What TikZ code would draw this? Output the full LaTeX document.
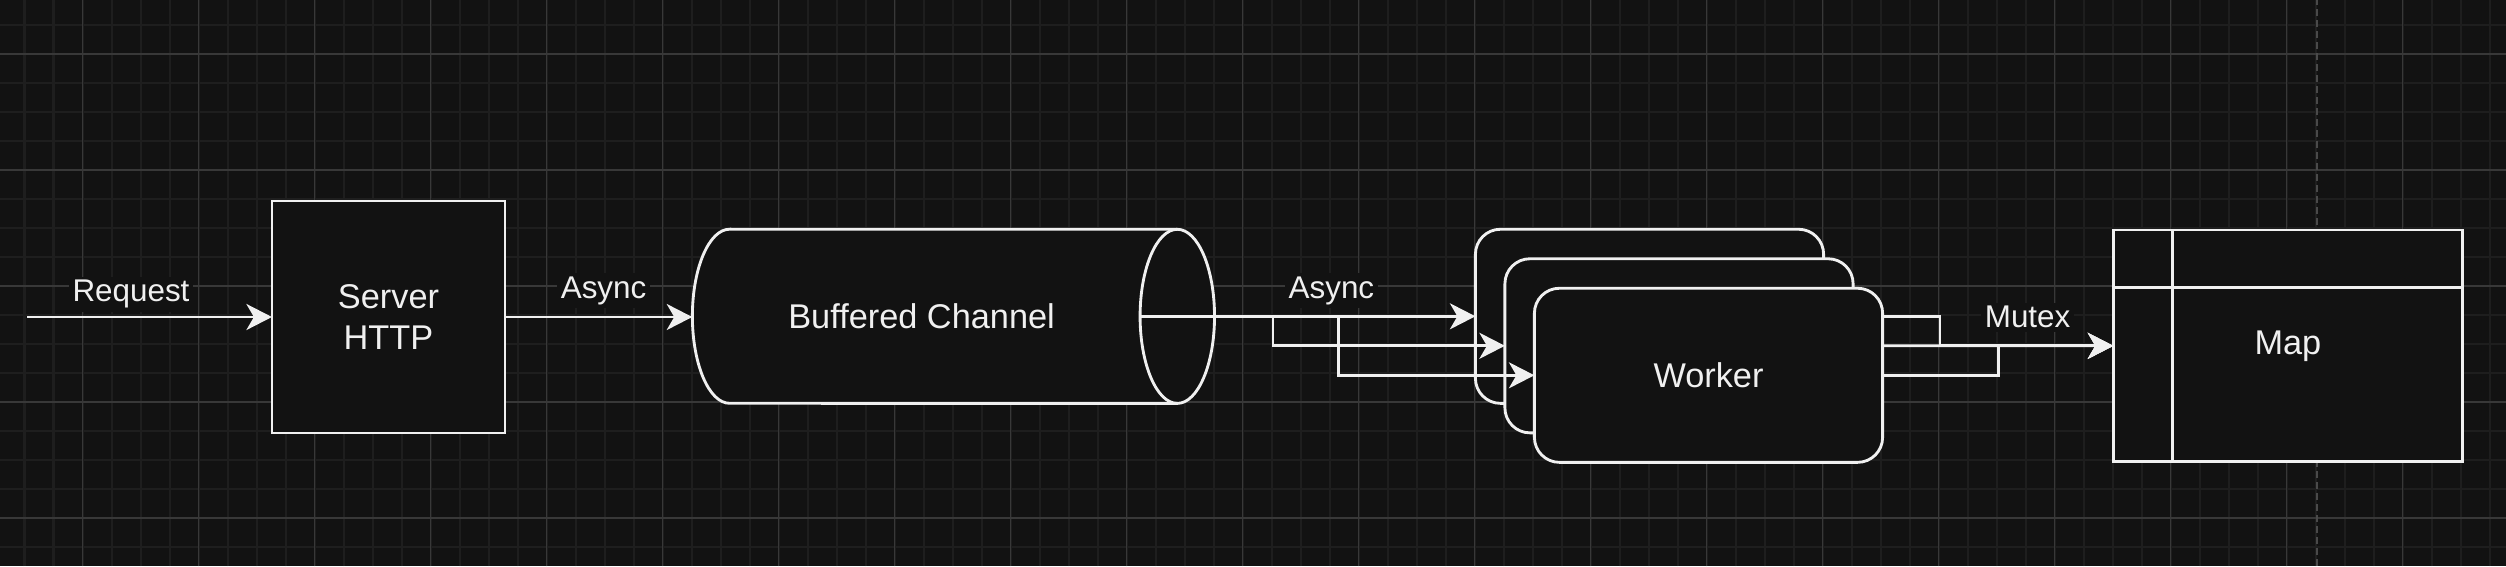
\documentclass[tikz,border=0pt]{standalone}
\usepackage{fontspec}
\setmainfont{Liberation Sans}
\usetikzlibrary{arrows.meta}
\definecolor{bg}{HTML}{121212}
\definecolor{gmin}{HTML}{1E1E1E}
\definecolor{gmaj}{HTML}{383838}
\definecolor{fg}{HTML}{F0F0F0}
\definecolor{pbreak}{HTML}{4A4A4A}
\newcommand\dnodefont{\fontsize{9.76}{11.67}\selectfont}
\newcommand\dedgefont{\fontsize{8.93}{10.7}\selectfont}
\pgfdeclarelayer{gridlayer}
\pgfdeclarelayer{behind}
\pgfdeclarelayer{front}
\pgfsetlayers{gridlayer,behind,main,front}
\begin{document}
\begin{tikzpicture}[x=0.01cm,y=0.01cm,
  outline/.style={draw=fg, fill=bg, line width=0.81pt},
  box/.style={outline, text=fg, inner sep=0pt, outer sep=0pt, font=\dnodefont, align=center},
  wbox/.style={box, rounded corners=0.25cm, minimum width=3.48cm, minimum height=1.74cm},
  wire/.style={draw=fg, line width=0.78pt},
  conn/.style={wire, -{Stealth[length=0.255cm,width=0.26cm,inset=0.075cm]}},
  elabel/.style={fill=bg, text=fg, inner sep=1pt, font=\dedgefont, anchor=base}]
\useasboundingbox (0,0) rectangle (2506,566);
\begin{pgfonlayer}{gridlayer}
  \fill[bg] (0,0) rectangle (2506,566);
  \foreach \i [evaluate=\i as \gx using 24.5+29*\i] in {0,...,86}
    \draw[gmin, line width=0.02cm] (\gx,0) -- (\gx,566);
  \foreach \j [evaluate=\j as \gy using 19+29*\j] in {0,...,18}
    \draw[gmin, line width=0.02cm] (0,\gy) -- (2506,\gy);
  \foreach \i [evaluate=\i as \gx using 82.5+116*\i] in {0,...,20}
    \draw[gmaj, line width=0.012cm] (\gx,0) -- (\gx,566);
  \foreach \j [evaluate=\j as \gy using 48+116*\j] in {0,...,4}
    \draw[gmaj, line width=0.012cm] (0,\gy) -- (2506,\gy);
  \draw[pbreak, line width=0.02cm, dash pattern=on 0.07cm off 0.04cm] (2316.7,0) -- (2316.7,566);
\end{pgfonlayer}

% nodes
\node[box, minimum width=2.33cm, minimum height=2.32cm] (server) at (388.5,249) {Server\\HTTP};

\node[inner sep=0pt, outer sep=0pt, minimum width=5.222cm, minimum height=1.74cm] (chan) at (953.5,249.7) {};
\path[outline] (729.6,336.7) -- (1177.3,336.7)
  arc[start angle=90, end angle=-90, x radius=0.372cm, y radius=0.87cm]
  -- (729.6,162.7)
  arc[start angle=270, end angle=90, x radius=0.372cm, y radius=0.87cm] -- cycle;
\draw[wire, line width=0.81pt] (1177.3,336.7) arc[start angle=90, end angle=270, x radius=0.372cm, y radius=0.87cm];
\node[text=fg, font=\dnodefont] (chanlabel) at (921.6,249.7) {Buffered Channel};
\coordinate (chanout) at (1140.1,249.7);

\node[wbox] (w1) at (1649.5,249.7) {};
\node[wbox] (w2) at (1679,220.2) {};
\node[wbox] (w3) at (1708.5,190.7) {Worker};

\node[box, minimum width=3.49cm, minimum height=2.317cm] (map) at (2287.9,220.15) {Map};
\draw[wire, line width=0.81pt] (2172.5,336) -- (2172.5,104.3);
\draw[wire, line width=0.81pt] (2113.4,278.7) -- (2462.4,278.7);

% edges behind workers
\begin{pgfonlayer}{behind}
  \draw[conn] (w1.east) -- ++(116.3,0) |- (map.west);
  \draw[conn] (w2.east) -- (map.west);
  \draw[conn] (w3.east) -- ++(115.9,0) |- (map.west);
\end{pgfonlayer}

% edges in front
\begin{pgfonlayer}{front}
  \coordinate (reqin) at (27,249);
  \draw[conn] (reqin) -- (server.west);
  \draw[conn] (server.east) -- (server.east -| chan.west);
  \draw[conn] (chanout) -- (chanout -| w1.west);
  \draw[conn] (chanout) -- ++(132.9,0) |- (w2.west);
  \draw[conn] (chanout) -- ++(198.7,0) |- (w3.west);
  \node[elabel] (lreq) at (131,264.3) {Request};
  \node[elabel] (las1) at (603.6,267.7) {Async};
  \node[elabel] (las2) at (1331.4,267.7) {Async};
  \node[elabel] (lmut) at (2027.6,238.3) {Mutex};
\end{pgfonlayer}
\end{tikzpicture}
\end{document}
